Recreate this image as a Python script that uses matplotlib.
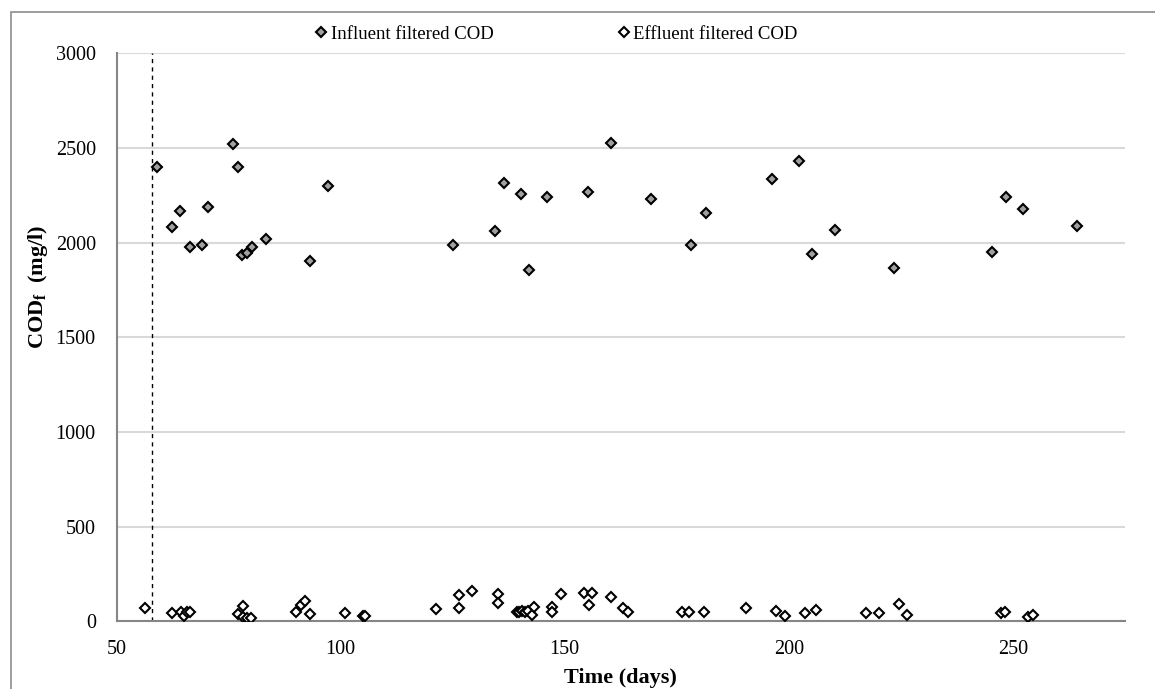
import matplotlib
matplotlib.use("Agg")
import matplotlib.pyplot as plt
from matplotlib.patches import Rectangle

# Influent filtered COD (days, mg/l)
inf_day = [59.0, 62.4, 64.1, 66.4, 69.0, 70.3, 76.0, 77.0, 78.0, 79.2, 80.3, 83.3,
           93.1, 97.1, 125.1, 134.4, 136.4, 140.3, 142.1, 146.1, 155.2, 160.3,
           169.2, 178.3, 181.5, 196.3, 202.2, 205.2, 210.3, 223.5, 245.4, 248.4,
           252.4, 264.4]
inf_cod = [2402, 2082, 2170, 1975, 1989, 2191, 2521, 2402, 1934, 1945, 1975, 2022,
           1906, 2300, 1990, 2063, 2316, 2258, 1855, 2244, 2267, 2524,
           2233, 1989, 2156, 2336, 2434, 1941, 2066, 1869, 1950, 2239,
           2179, 2089]

# Effluent filtered COD (days, mg/l)
eff_day = [56.3, 62.4, 64.3, 65.0, 65.6, 66.4, 77.0, 78.3, 78.1, 79.2, 80.0,
           90.0, 91.1, 92.1, 93.1, 101.0, 105.0, 105.5, 121.2, 126.3, 126.4,
           129.3, 135.1, 135.1, 139.3, 139.8, 140.4, 141.1, 141.7, 142.6, 143.2,
           147.1, 147.2, 149.2, 154.3, 155.4, 156.2, 160.3, 163.1, 164.2, 176.2,
           177.8, 181.1, 190.4, 197.2, 199.2, 203.6, 206.2, 217.3, 220.2, 224.6,
           226.4, 247.3, 248.2, 253.5, 254.6]
eff_cod = [70, 47, 50, 29, 52, 52, 38, 84, 22, 17, 20,
           50, 85, 108, 38, 43, 29, 29, 68, 73, 140,
           163, 145, 96, 52, 52, 55, 52, 54, 33, 78,
           75, 49, 145, 149, 89, 152, 131, 73, 49, 49,
           52, 52, 73, 57, 31, 46, 61, 46, 46, 94,
           33, 46, 52, 25, 34]

start_day = 58  # dashed marker line

plt.rcParams["font.family"] = ["Liberation Serif", "DejaVu Serif"]
plt.rcParams["mathtext.fontset"] = "custom"
plt.rcParams["mathtext.rm"] = "Liberation Serif"
plt.rcParams["mathtext.bf"] = "Liberation Serif:bold"

fig = plt.figure(figsize=(11.55, 6.89), dpi=100)
ax = fig.add_axes([0.101, 0.098, 0.8728, 0.8246])

# outer chart border (cut off at right and bottom)
fig.patches.append(Rectangle((11 / 1155, -0.2), 1.5, 1.2 - 12 / 689,
                             transform=fig.transFigure, fill=False,
                             edgecolor="#8c8c8c", lw=1.2))

ax.plot(inf_day, inf_cod, ls="none", marker="D", ms=5.2, mfc="#a0a0a0",
        mec="black", mew=1.5, label="Influent filtered COD", zorder=3)
ax.plot(eff_day, eff_cod, ls="none", marker="D", ms=5.2, mfc="white",
        mec="black", mew=1.5, label="Effluent filtered COD", zorder=3)
ax.axvline(start_day, color="black", lw=1, ls=(0, (3, 3)), zorder=2)

ax.set_xlim(50, 275)
ax.set_ylim(0, 3000)
ax.set_xticks([50, 100, 150, 200, 250])
ax.set_yticks(range(0, 3001, 500))
ax.yaxis.grid(True, color="#d9d9d9", lw=1.5)
ax.set_axisbelow(True)
for s in ["top", "right"]:
    ax.spines[s].set_visible(False)
for s in ["left", "bottom"]:
    ax.spines[s].set_color("#868686")
    ax.spines[s].set_linewidth(1.5)
ax.tick_params(axis="both", length=0, labelsize=14.5)
ax.tick_params(axis="y", pad=15)
ax.tick_params(axis="x", pad=13)

ax.set_xlabel("Time (days)", fontsize=16, fontweight="bold")
ax.xaxis.set_label_coords(0.5, -0.082)
ax.set_ylabel(r"COD$_\mathbf{f}$  (mg/l)", fontsize=16, fontweight="bold")
ax.yaxis.set_label_coords(-0.066, 0.59)

fig.legend(loc="center", bbox_to_anchor=(556 / 1155, 1 - 34 / 689), ncol=2,
           frameon=False, fontsize=13.5, handlelength=0.7, handletextpad=0.15,
           columnspacing=6.6, markerscale=0.9)

fig.savefig("out.png", dpi=100)
